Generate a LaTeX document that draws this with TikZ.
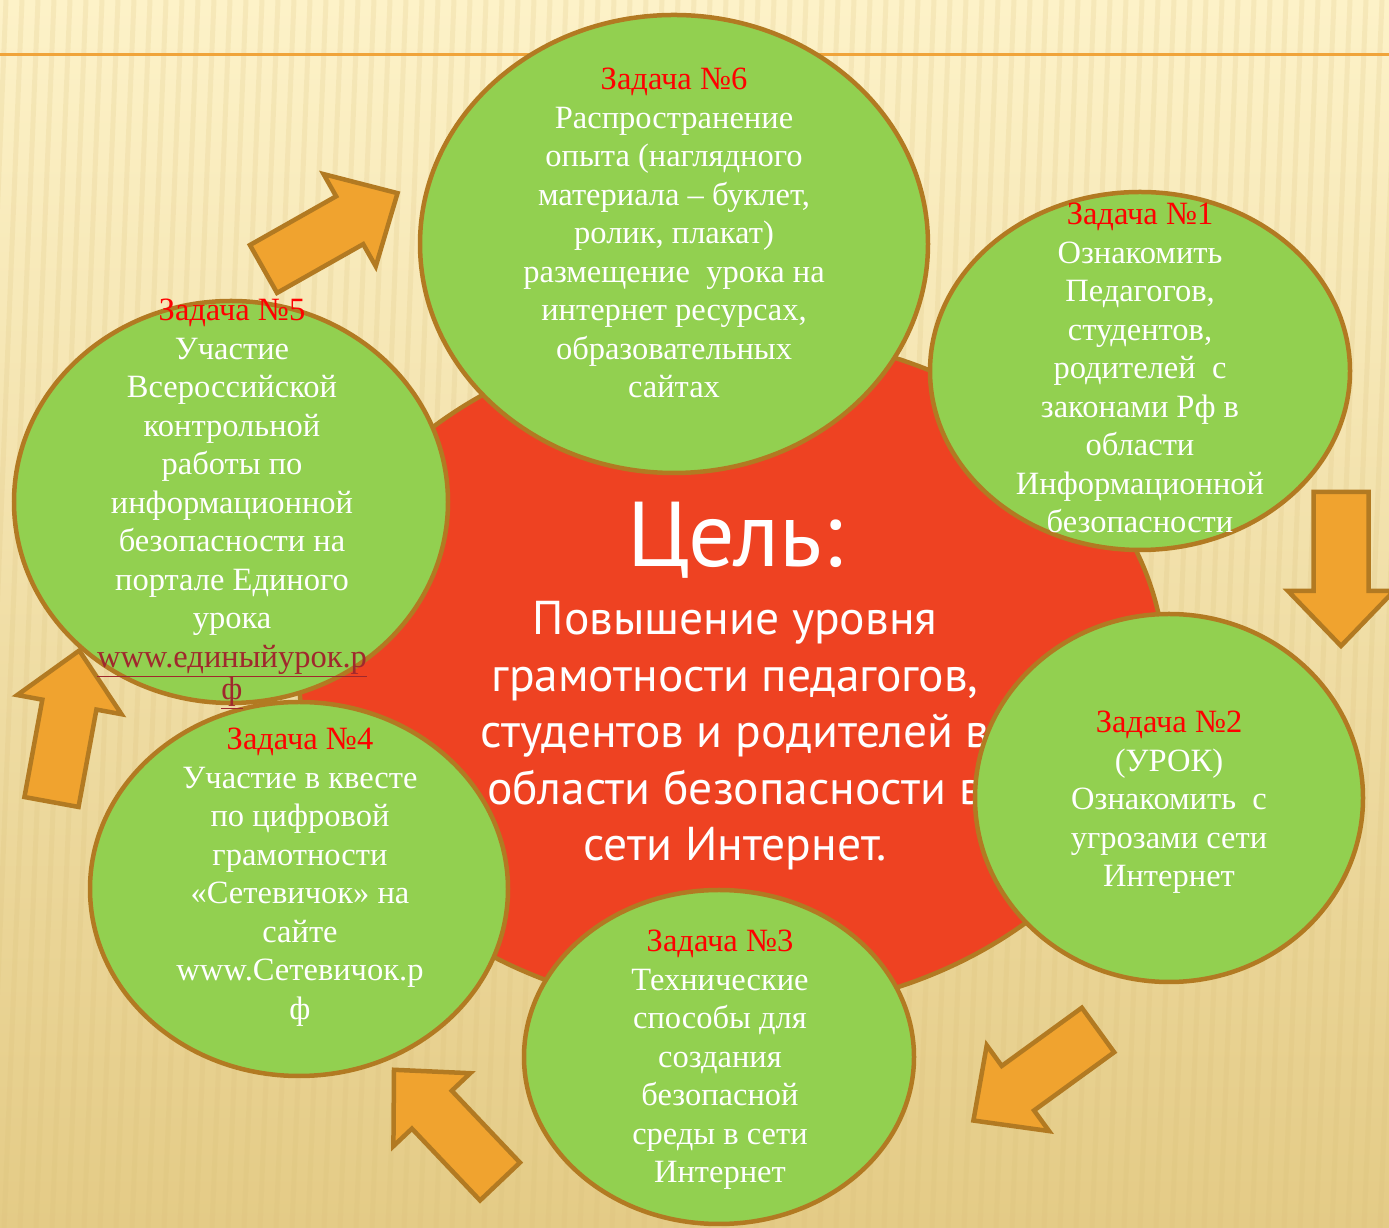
\documentclass[tikz,border=0pt]{standalone}
\usepackage{fontspec}
\setmainfont{Liberation Serif}
\newfontfamily\goalfont{PT Sans}
\usetikzlibrary{shapes.geometric}

\definecolor{bgtop}{HTML}{FDF2C8}
\definecolor{bgmid}{HTML}{F7E6B2}
\definecolor{bgbot}{HTML}{E4CB86}
\definecolor{bgstripe}{HTML}{D9BE78}
\definecolor{topline}{HTML}{F0A43A}
\definecolor{goalred}{HTML}{EE4222}
\definecolor{taskgreen}{HTML}{92D050}
\definecolor{taskborder}{HTML}{B27A22}
\definecolor{arrowfill}{HTML}{F0A32F}
\definecolor{linkred}{HTML}{A0282D}

\newcommand{\tasktitle}[1]{\textcolor{red}{#1}}
\newcommand{\tasklink}[1]{\textcolor{linkred}{\underline{#1}}}

% text nodes sit on the baseline of their last line
\tikzset{
  task/.style={ellipse, draw=taskborder, fill=taskgreen, line width=4.5pt, inner sep=0pt},
  tasktext/.style={text=white, align=center, inner sep=0pt, anchor=base,
    font=\fontsize{32.5}{38.5}\selectfont},
  blockarrow/.pic={
    \filldraw[fill=arrowfill, draw=taskborder, line width=4.5pt]
      (0,-\shaftw) -- (\headx,-\shaftw) -- (\headx,-\headw) -- (\arrowlen,0)
      -- (\headx,\headw) -- (\headx,\shaftw) -- (0,\shaftw) -- cycle;
  }
}

\begin{document}
\begin{tikzpicture}[x=1pt, y=1pt]
  \def\arrowlen{154}
  \def\headx{99}
  \def\shaftw{27.5}
  \def\headw{53}

  \useasboundingbox (0,0) rectangle (1389,1228);
  \shade[top color=bgtop, middle color=bgmid, bottom color=bgbot] (0,0) rectangle (1389,1228);
  \begin{scope}
    \clip (0,0) rectangle (1389,1228);
    \foreach \s in {-60,-44,...,1400}
      \draw[bgstripe, line width=5pt, opacity=0.18] (\s,0) -- (\s+50,1228);
  \end{scope}
  \draw[topline, line width=3pt] (0,1173) -- (1389,1173);

  % arrows between the tasks
  \pic[rotate=29.5] at (263.5,959) {blockarrow};
  \pic[rotate=-90] at (1341,736) {blockarrow};
  \pic[rotate=216] at (1098,198) {blockarrow};
  \pic[rotate=133.5] at (500,46.5) {blockarrow};
  \pic[rotate=79.6] at (51.5,426) {blockarrow};

  % goal in the middle
  \node[ellipse, draw=taskborder, fill=goalred, line width=4.5pt, inner sep=0pt,
    minimum width=866, minimum height=680] (goal) at (732,555) {};
  \node[anchor=base, text=white, inner sep=0pt, font=\goalfont\fontsize{92}{94}\selectfont]
    (goaltitle) at (735,661) {Цель:};
  \node[anchor=base, text=white, align=center, inner sep=0pt,
    font=\goalfont\fontsize{47.5}{56.5}\selectfont] (goaltext) at (735,367)
    {Повышение уровня\\ грамотности педагогов,\\ студентов и родителей в\\
     области безопасности в\\ сети Интернет.};

  % tasks
  \node[task, minimum width=508, minimum height=458] (c6) at (674,984) {};
  \node[tasktext] (t6) at (674,830) {\tasktitle{Задача №6}\\ Распространение\\
    опыта (наглядного\\ материала – буклет,\\ ролик, плакат)\\
    размещение\ \ урока на\\ интернет ресурсах,\\ образовательных\\ сайтах};

  \node[task, minimum width=420, minimum height=358] (c1) at (1140,857) {};
  \node[tasktext] (t1) at (1140,695) {\tasktitle{Задача №1}\\ Ознакомить\\
    Педагогов,\\ студентов,\\ родителей\ \ с\\ законами Рф в\\ области\\
    Информационной\\ безопасности};

  \node[task, minimum width=388, minimum height=368] (c2) at (1169,430) {};
  \node[tasktext] (t2) at (1169,341) {\tasktitle{Задача №2}\\ (УРОК)\\
    Ознакомить\ \ с\\ угрозами сети\\ Интернет};

  \node[task, minimum width=390, minimum height=334] (c3) at (719,171) {};
  \node[tasktext] (t3) at (720,45) {\tasktitle{Задача №3}\\ Технические\\
    способы для\\ создания\\ безопасной\\ среды в сети\\ Интернет};

  \node[task, minimum width=418, minimum height=374] (c4) at (299,339) {};
  \node[tasktext] (t4) at (300,208.5) {\tasktitle{Задача №4}\\ Участие в квесте\\
    по цифровой\\ грамотности\\ «Сетевичок» на\\ сайте\\ www.Сетевичок.р\\ ф};

  \node[task, minimum width=434, minimum height=402] (c5) at (231,726) {};
  \node[tasktext] (t5) at (232,528.5) {\tasktitle{Задача №5}\\ Участие\\
    Всероссийской\\ контрольной\\ работы по\\ информационной\\
    безопасности на\\ портале Единого\\ урока\\
    \tasklink{www.единыйурок.р}\\[-6.5pt] \tasklink{ф}};
\end{tikzpicture}
\end{document}
